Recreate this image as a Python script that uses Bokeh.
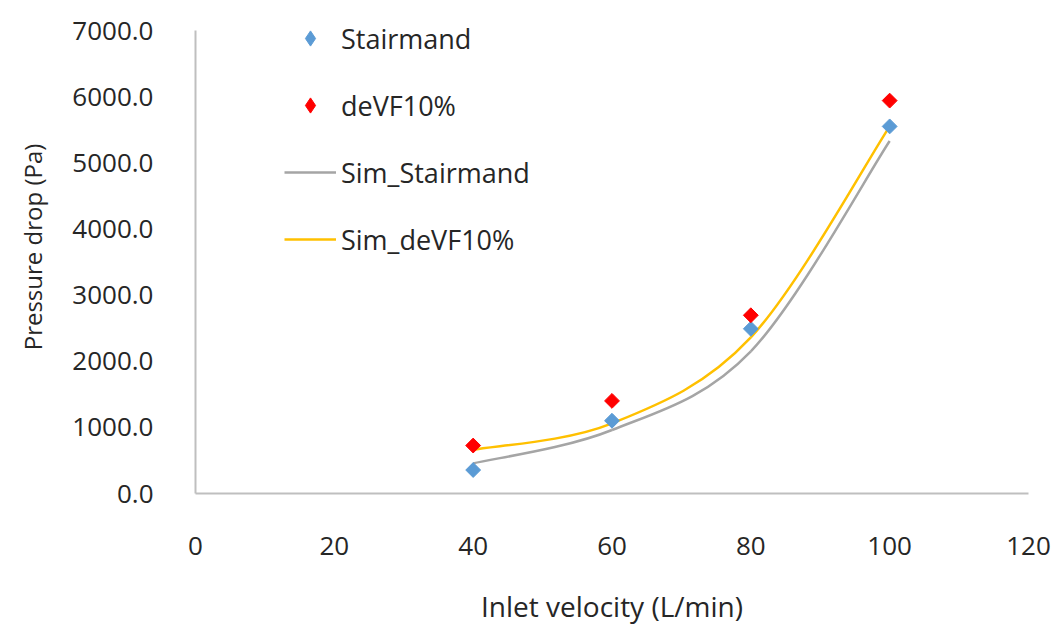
import numpy as np
from bokeh.plotting import figure
from bokeh.models import Range1d, Legend, LegendItem, ColumnDataSource, FixedTicker, CustomJSTickFormatter
from bokeh.embed import file_html
from bokeh.resources import INLINE

# Inlet velocity (L/min)
velocity = [40, 60, 80, 100]

# Measured pressure drop (Pa)
stairmand = [355, 1100, 2490, 5550]
devf10 = [725, 1400, 2695, 5940]

# Simulated pressure drop (Pa)
sim_stairmand = [455, 960, 2150, 5330]
sim_devf10 = [660, 1060, 2360, 5550]

x_ticks = [0, 20, 40, 60, 80, 100, 120]
y_ticks = [0, 1000, 2000, 3000, 4000, 5000, 6000, 7000]

FONT = "Open Sans"
TEXT = "#262626"
AXIS = "#BFBFBF"

# The frame reaches the top edge so the legend has room above the 7000 line;
# the y axis itself is bounded to 0..7000.
Y_TOP = 7000 + 30 / (463 / 7000)


def smooth_segments(xs, ys):
    """Cubic Bezier pieces through the points (Catmull-Rom style smoothing)."""
    xs = np.asarray(xs, float)
    ys = np.asarray(ys, float)
    n = len(xs)
    px = np.concatenate([[xs[0]], xs, [xs[-1]]])
    py = np.concatenate([[ys[0]], ys, [ys[-1]]])
    seg = dict(x0=[], y0=[], x1=[], y1=[], cx0=[], cy0=[], cx1=[], cy1=[])
    for i in range(n - 1):
        j = i + 1
        seg["x0"].append(px[j]); seg["y0"].append(py[j])
        seg["x1"].append(px[j + 1]); seg["y1"].append(py[j + 1])
        seg["cx0"].append(px[j] + (px[j + 1] - px[j - 1]) / 6)
        seg["cy0"].append(py[j] + (py[j + 1] - py[j - 1]) / 6)
        seg["cx1"].append(px[j + 1] - (px[j + 2] - px[j]) / 6)
        seg["cy1"].append(py[j + 1] - (py[j + 2] - py[j]) / 6)
    return ColumnDataSource(seg)


p = figure(
    width=1059, height=630,
    x_range=Range1d(0, 120), y_range=Range1d(0, Y_TOP),
    output_backend="svg", toolbar_location=None,
    min_border_left=195, min_border_right=31,
    min_border_top=0, min_border_bottom=137,
)
p.outline_line_color = None
p.background_fill_color = "white"
p.border_fill_color = "white"
p.xgrid.visible = False
p.ygrid.visible = False

for ax in (p.xaxis[0], p.yaxis[0]):
    ax.axis_line_color = AXIS
    ax.axis_line_width = 2
    ax.major_tick_line_color = None
    ax.minor_tick_line_color = None
    ax.major_tick_out = 0
    ax.major_tick_in = 0
    ax.major_label_text_font = FONT
    ax.major_label_text_font_size = "26px"
    ax.major_label_text_color = TEXT
    ax.axis_label_text_font = FONT
    ax.axis_label_text_font_style = "normal"
    ax.axis_label_text_color = TEXT

p.yaxis.bounds = (0, 7000)
p.xaxis.ticker = FixedTicker(ticks=x_ticks)
p.yaxis.ticker = FixedTicker(ticks=y_ticks)
p.yaxis.formatter = CustomJSTickFormatter(code="return tick.toFixed(1);")
p.xaxis.major_label_standoff = 43
p.yaxis.major_label_standoff = 42
p.xaxis.axis_label = "Inlet velocity (L/min)"
p.yaxis.axis_label = "Pressure drop (Pa)"
p.xaxis.axis_label_text_font_size = "28px"
p.yaxis.axis_label_text_font_size = "24px"
p.xaxis.axis_label_standoff = 29
p.yaxis.axis_label_standoff = 20

r_sim_s = p.bezier("x0", "y0", "x1", "y1", "cx0", "cy0", "cx1", "cy1",
                   source=smooth_segments(velocity, sim_stairmand),
                   line_color="#A5A5A5", line_width=2.5)
r_sim_d = p.bezier("x0", "y0", "x1", "y1", "cx0", "cy0", "cx1", "cy1",
                   source=smooth_segments(velocity, sim_devf10),
                   line_color="#FFC000", line_width=2.5)

r_st = p.scatter(velocity, stairmand, marker="square", size=10.5, angle=np.pi / 4,
                 fill_color="#5B9BD5", line_color="#5B9BD5")
r_dv = p.scatter(velocity, devf10, marker="square", size=10.5, angle=np.pi / 4,
                 fill_color="#FF0000", line_color="#FF0000")

# legend swatches: diamond markers (the legend does not rotate glyphs);
# a single NaN row keeps them off the plot itself
key_st = p.scatter([np.nan], [np.nan], marker="diamond",
                   fill_color="#5B9BD5", line_color="#5B9BD5")
key_dv = p.scatter([np.nan], [np.nan], marker="diamond",
                   fill_color="#FF0000", line_color="#FF0000")

legend = Legend(
    items=[
        LegendItem(label="Stairmand", renderers=[key_st]),
        LegendItem(label="deVF10%", renderers=[key_dv]),
        LegendItem(label="Sim_Stairmand", renderers=[r_sim_s]),
        LegendItem(label="Sim_deVF10%", renderers=[r_sim_d]),
    ],
    location=(89, 235),
    orientation="vertical",
    glyph_width=52, glyph_height=38,
    label_height=30, spacing=29, label_standoff=5,
    padding=0, margin=0,
    border_line_color=None, background_fill_alpha=0,
    label_text_font=FONT, label_text_font_size="27px", label_text_color=TEXT,
)
p.add_layout(legend, "center")

open("out.html", "w").write(file_html(p, INLINE))
